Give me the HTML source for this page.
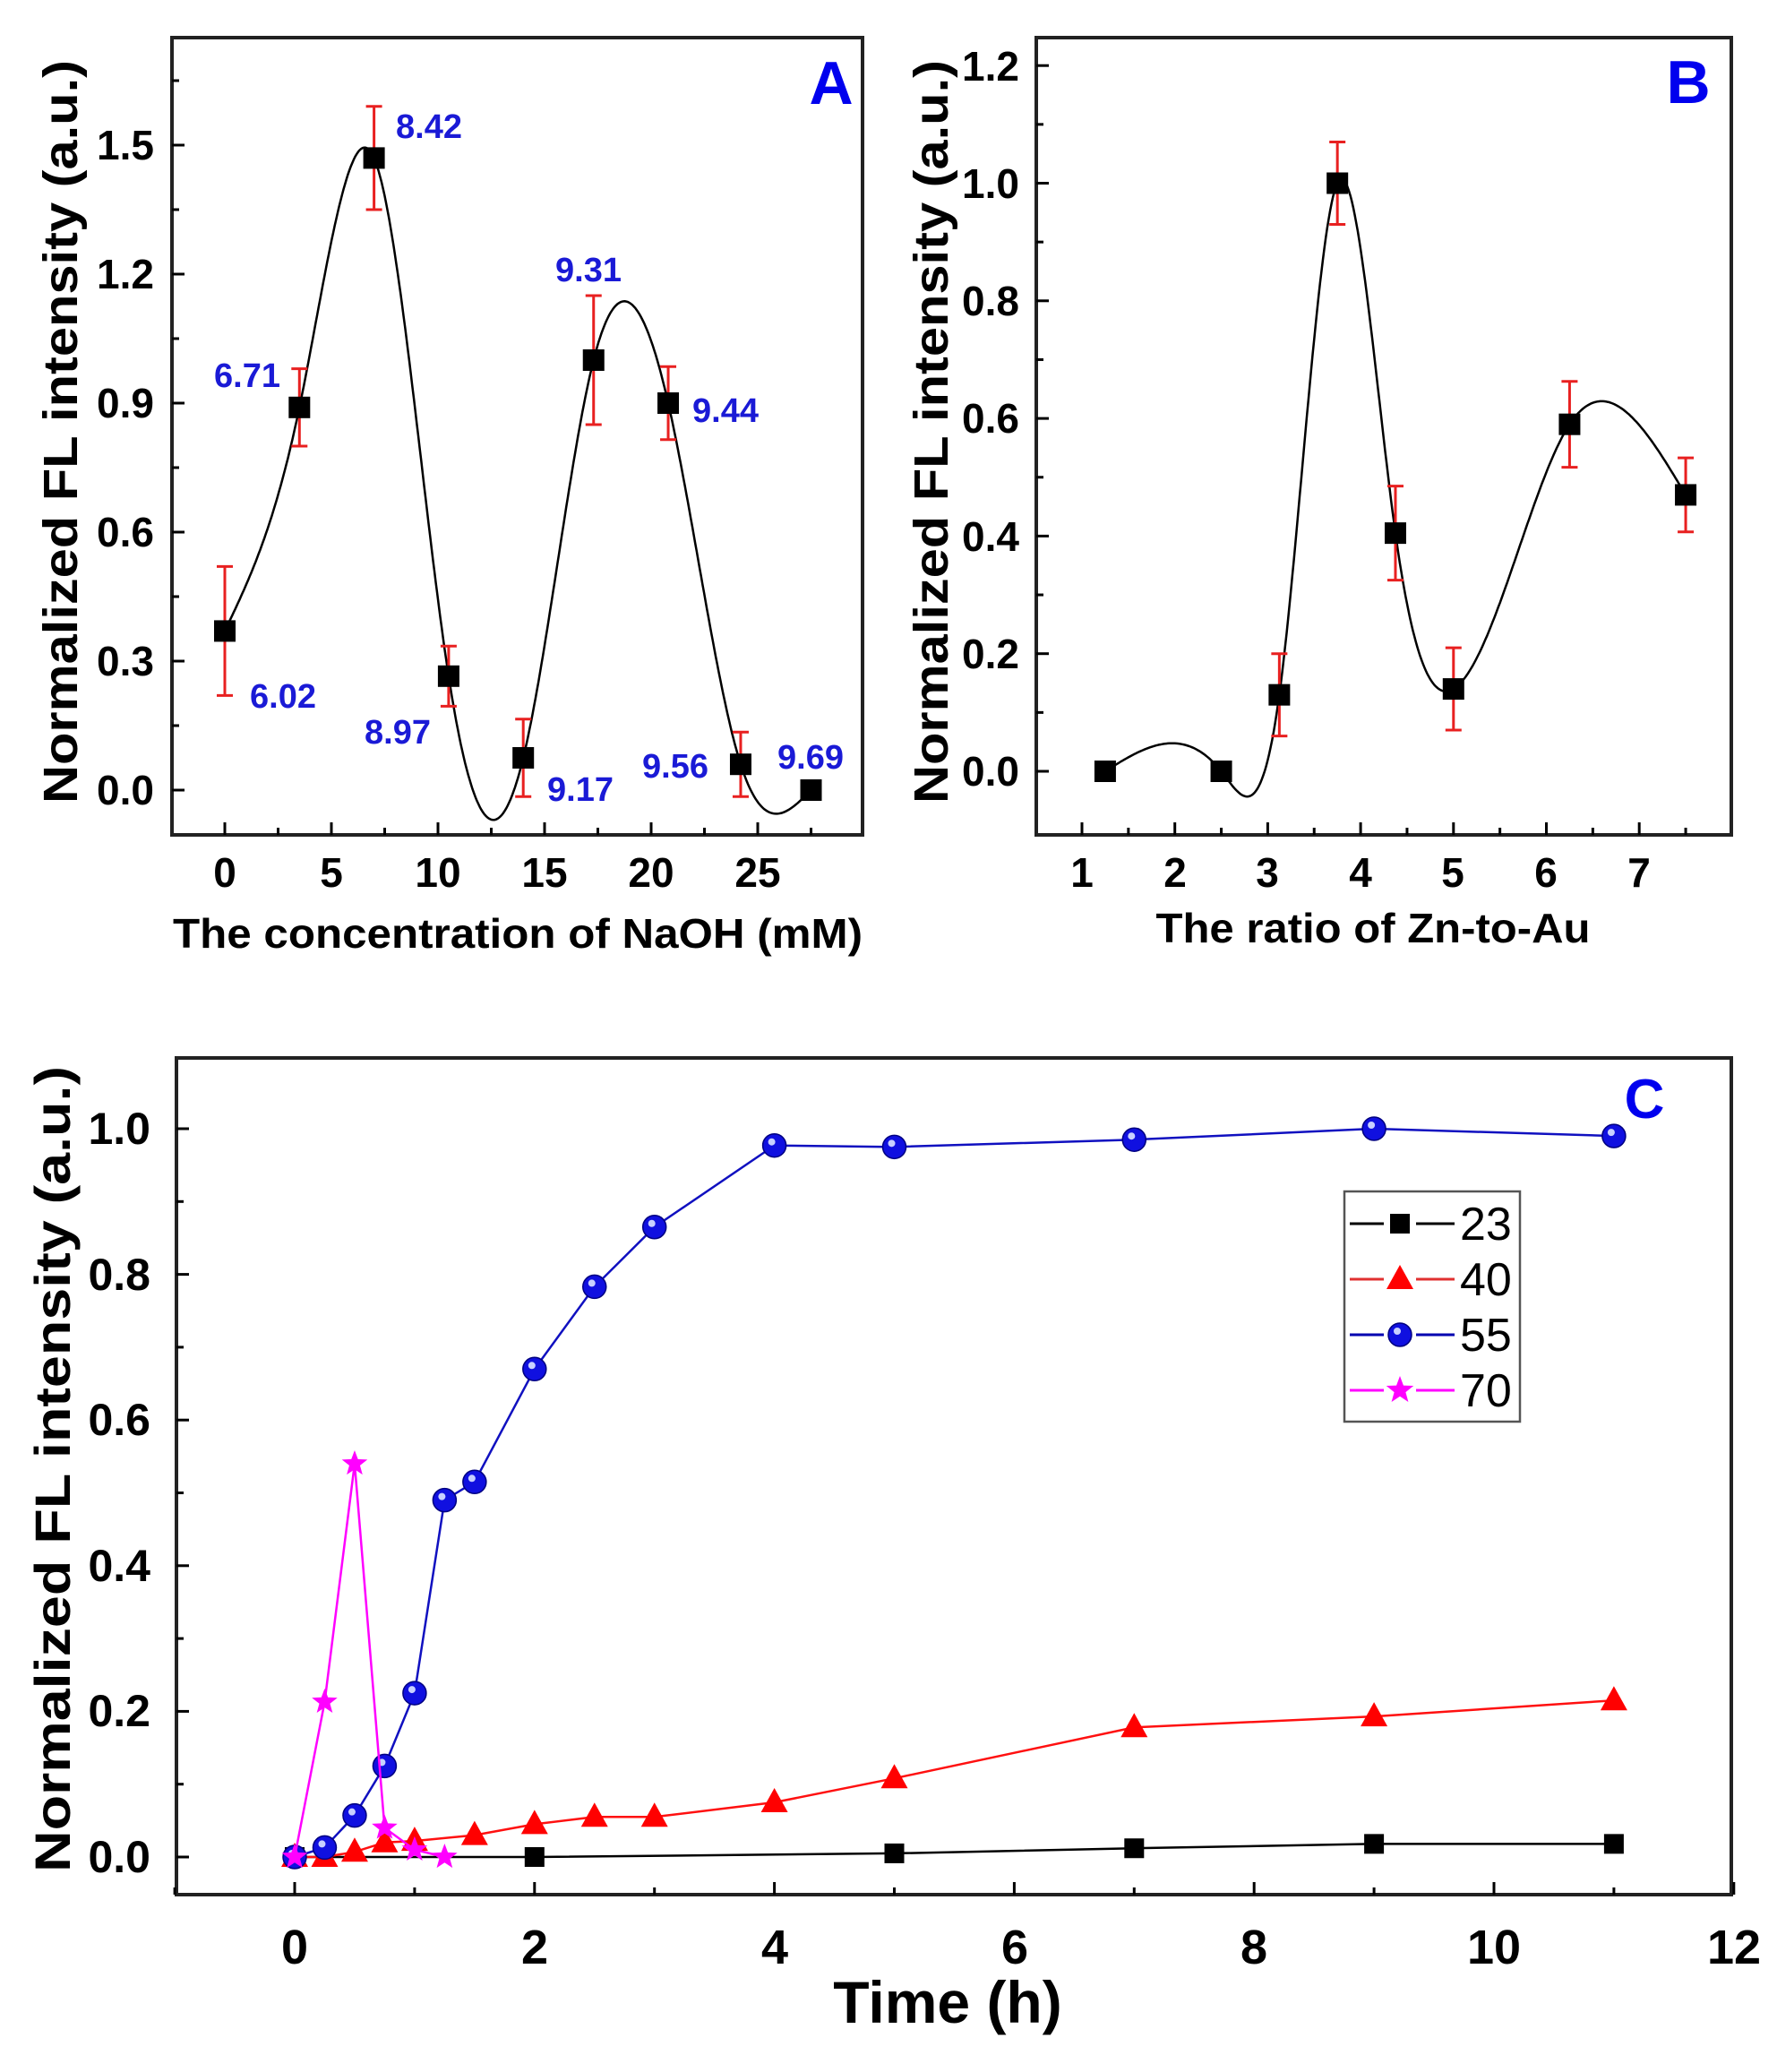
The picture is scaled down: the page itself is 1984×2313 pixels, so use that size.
<!DOCTYPE html>
<html><head><meta charset="utf-8"><style>
html,body{margin:0;padding:0;background:#fff;}
svg{display:block;}
.b{font-family:"Liberation Sans",Arial,sans-serif;font-weight:bold;}
.n{font-family:"Liberation Sans Narrow","Liberation Sans",Arial,sans-serif;}
</style></head><body>
<svg id="s" width="1984" height="2313" viewBox="0 0 1984 2313" xmlns="http://www.w3.org/2000/svg">
<rect width="1984" height="2313" fill="#fff"/>
<rect x="1501" y="1330" width="196" height="257" fill="#fff" stroke="#555" stroke-width="2.5"/>
<g id="g"></g>
<!-- Panel A texts -->
<g class="b" font-size="46" text-anchor="end" fill="#000">
<text x="172" y="898">0.0</text><text x="172" y="754">0.3</text><text x="172" y="610">0.6</text><text x="172" y="466">0.9</text><text x="172" y="322">1.2</text><text x="172" y="178">1.5</text>
</g>
<g class="b" font-size="46" text-anchor="middle" fill="#000">
<text x="251" y="990">0</text><text x="370" y="990">5</text><text x="489" y="990">10</text><text x="608" y="990">15</text><text x="727" y="990">20</text><text x="846" y="990">25</text>
</g>
<text class="b" x="578" y="1058" font-size="46" text-anchor="middle" textLength="770" lengthAdjust="spacingAndGlyphs">The concentration of NaOH (mM)</text>
<text class="b" transform="translate(86,482) rotate(-90)" font-size="54" text-anchor="middle" textLength="830" lengthAdjust="spacingAndGlyphs">Normalized FL intensity (a.u.)</text>
<text class="b" x="928" y="116" font-size="68" fill="#0000ee" text-anchor="middle">A</text>
<g class="b" font-size="38" fill="#1a1ad6" text-anchor="middle">
<text x="316" y="790">6.02</text><text x="276" y="432">6.71</text><text x="479" y="154">8.42</text>
<text x="444" y="830">8.97</text><text x="648" y="894">9.17</text><text x="657" y="314">9.31</text>
<text x="810" y="471">9.44</text><text x="754" y="868">9.56</text><text x="905" y="858">9.69</text>
</g>
<!-- Panel B texts -->
<g class="b" font-size="46" text-anchor="end" fill="#000">
<text x="1138" y="877">0.0</text><text x="1138" y="746">0.2</text><text x="1138" y="615">0.4</text><text x="1138" y="483">0.6</text><text x="1138" y="352">0.8</text><text x="1138" y="221">1.0</text><text x="1138" y="90">1.2</text>
</g>
<g class="b" font-size="46" text-anchor="middle" fill="#000">
<text x="1208" y="990">1</text><text x="1312" y="990">2</text><text x="1415" y="990">3</text><text x="1519" y="990">4</text><text x="1622" y="990">5</text><text x="1726" y="990">6</text><text x="1830" y="990">7</text>
</g>
<text class="b" x="1533" y="1052" font-size="46" text-anchor="middle" textLength="485" lengthAdjust="spacingAndGlyphs">The ratio of Zn-to-Au</text>
<text class="b" transform="translate(1058,482) rotate(-90)" font-size="54" text-anchor="middle" textLength="830" lengthAdjust="spacingAndGlyphs">Normalized FL intensity (a.u.)</text>
<text class="b" x="1885" y="115" font-size="68" fill="#0000ee" text-anchor="middle">B</text>
<!-- Panel C texts -->
<g class="b n" font-size="50" text-anchor="end" fill="#000">
<text x="168" y="2090">0.0</text><text x="168" y="1927">0.2</text><text x="168" y="1765">0.4</text><text x="168" y="1602">0.6</text><text x="168" y="1440">0.8</text><text x="168" y="1277">1.0</text>
</g>
<g class="b n" font-size="54" text-anchor="middle" fill="#000">
<text x="329" y="2192">0</text><text x="597" y="2192">2</text><text x="865" y="2192">4</text><text x="1133" y="2192">6</text><text x="1400" y="2192">8</text><text x="1668" y="2192">10</text><text x="1936" y="2192">12</text>
</g>
<text class="b n" x="1058" y="2258" font-size="66" text-anchor="middle">Time (h)</text>
<text class="b" transform="translate(78,1640) rotate(-90)" font-size="56" text-anchor="middle" textLength="900" lengthAdjust="spacingAndGlyphs">Normalized FL intensity (a.u.)</text>
<text class="b" x="1836" y="1248" font-size="62" fill="#0000ee" text-anchor="middle">C</text>
<g class="n" font-size="52" fill="#000">
<text x="1630" y="1384">23</text><text x="1630" y="1446">40</text><text x="1630" y="1508">55</text><text x="1630" y="1570">70</text>
</g>
</svg>
<script>
(function(){
var g=document.getElementById('g'),NS='http://www.w3.org/2000/svg';
function el(t,a){var e=document.createElementNS(NS,t);for(var k in a)e.setAttribute(k,a[k]);g.appendChild(e);return e;}
function line(x1,y1,x2,y2,c,w){el('line',{x1:x1,y1:y1,x2:x2,y2:y2,stroke:c||'#000','stroke-width':w||3});}
function frame(l,t,r,b){el('rect',{x:l,y:t,width:r-l,height:b-t,fill:'none',stroke:'#222','stroke-width':4});}
function spline(xs,ys){var n=xs.length,h=[],al=[],l=[1],mu=[0],z=[0],c=new Array(n).fill(0),b=[],d=[];
for(var i=0;i<n-1;i++)h[i]=xs[i+1]-xs[i];
for(var i=1;i<n-1;i++)al[i]=3/h[i]*(ys[i+1]-ys[i])-3/h[i-1]*(ys[i]-ys[i-1]);
for(var i=1;i<n-1;i++){l[i]=2*(xs[i+1]-xs[i-1])-h[i-1]*mu[i-1];mu[i]=h[i]/l[i];z[i]=(al[i]-h[i-1]*z[i-1])/l[i];}
l[n-1]=1;z[n-1]=0;c[n-1]=0;
for(var j=n-2;j>=0;j--){c[j]=z[j]-mu[j]*c[j+1];b[j]=(ys[j+1]-ys[j])/h[j]-h[j]*(c[j+1]+2*c[j])/3;d[j]=(c[j+1]-c[j])/(3*h[j]);}
return function(x){var i=0;while(i<n-2&&x>xs[i+1])i++;var t=x-xs[i];return ys[i]+b[i]*t+c[i]*t*t+d[i]*t*t*t;};}
function curve(pts,X,Y){var f=spline(pts.map(function(p){return p[0]}),pts.map(function(p){return p[1]}));
var x0=pts[0][0],x1=pts[pts.length-1][0],s=[];for(var k=0;k<=400;k++){var x=x0+(x1-x0)*k/400;s.push(X(x).toFixed(1)+','+Y(f(x)).toFixed(1));}
el('polyline',{points:s.join(' '),fill:'none',stroke:'#000','stroke-width':2.5});}
function sq(x,y,s){el('rect',{x:x-s/2,y:y-s/2,width:s,height:s,fill:'#000'});}
function err(x,y1,y2){line(x,y1,x,y2,'#e82020',3);line(x-9,y1,x+9,y1,'#e82020',3);line(x-9,y2,x+9,y2,'#e82020',3);}
// Panel A
var AX=function(v){return 251+v*23.8},AY=function(v){return 882-v*480};
frame(192,42,963,932);
[0,5,10,15,20,25].forEach(function(v){line(AX(v),932,AX(v),918);});
[2.5,7.5,12.5,17.5,22.5,27.5].forEach(function(v){line(AX(v),932,AX(v),924);});
[0,0.3,0.6,0.9,1.2,1.5].forEach(function(v){line(192,AY(v),206,AY(v));});
[0.15,0.45,0.75,1.05,1.35,1.65].forEach(function(v){line(192,AY(v),200,AY(v));});
var ad=[[0,0.37,0.15],[3.5,0.89,0.09],[7,1.47,0.12],[10.5,0.265,0.07],[14,0.075,0.09],[17.3,1.0,0.15],[20.8,0.9,0.085],[24.2,0.06,0.075],[27.5,0,0]];
curve(ad,AX,AY);
ad.forEach(function(p){if(p[2])err(AX(p[0]),AY(p[1]+p[2]),AY(p[1]-p[2]));sq(AX(p[0]),AY(p[1]),24);});
// Panel B
var BX=function(v){return 1208+(v-1)*103.7},BY=function(v){return 861-v*656.5};
frame(1157,42,1933,932);
[1,2,3,4,5,6,7].forEach(function(v){line(BX(v),932,BX(v),918);});
[1.5,2.5,3.5,4.5,5.5,6.5,7.5].forEach(function(v){line(BX(v),932,BX(v),924);});
[0,0.2,0.4,0.6,0.8,1.0,1.2].forEach(function(v){line(1157,BY(v),1171,BY(v));});
[0.1,0.3,0.5,0.7,0.9,1.1].forEach(function(v){line(1157,BY(v),1165,BY(v));});
var bd=[[1.25,0,0],[2.5,0,0],[3.125,0.13,0.07],[3.75,1.0,0.07],[4.375,0.405,0.08],[5,0.14,0.07],[6.25,0.59,0.073],[7.5,0.47,0.063]];
curve(bd,BX,BY);
bd.forEach(function(p){if(p[2])err(BX(p[0]),BY(p[1]+p[2]),BY(p[1]-p[2]));sq(BX(p[0]),BY(p[1]),24);});
// Panel C
var CX=function(v){return 329+v*133.9},CY=function(v){return 2073-v*813};
frame(197,1181,1933,2115);
for(var v=0;v<=12;v+=2)line(CX(v),2115,CX(v),2101);
for(var v=-1;v<=11;v+=2)line(CX(v),2115,CX(v),2107);
[0,0.2,0.4,0.6,0.8,1.0].forEach(function(v){line(197,CY(v),211,CY(v));});
[0.1,0.3,0.5,0.7,0.9].forEach(function(v){line(197,CY(v),205,CY(v));});
function poly(d,c){el('polyline',{points:d.map(function(p){return CX(p[0])+','+CY(p[1])}).join(' '),fill:'none',stroke:c,'stroke-width':2.5});}
function tri(x,y,c){el('polygon',{points:(x)+','+(y-16)+' '+(x-15)+','+(y+11)+' '+(x+15)+','+(y+11),fill:c});}
function ball(x,y){el('circle',{cx:x,cy:y,r:13,fill:'#1010e0',stroke:'#000080','stroke-width':1.5});el('circle',{cx:x-3,cy:y-4,r:4,fill:'#c8d0ff'});}
function star(x,y,r,c){var p=[];for(var i=0;i<10;i++){var a=-Math.PI/2+i*Math.PI/5,rr=i%2?r*0.42:r;p.push((x+rr*Math.cos(a))+','+(y+rr*Math.sin(a)));}el('polygon',{points:p.join(' '),fill:c});}
var d23=[[0,0],[2,0],[5,0.005],[7,0.012],[9,0.018],[11,0.018]];
var d40=[[0,0],[0.25,0],[0.5,0.007],[0.75,0.02],[1,0.022],[1.5,0.03],[2,0.045],[2.5,0.055],[3,0.055],[4,0.075],[5,0.108],[7,0.178],[9,0.193],[11,0.215]];
var d55=[[0,0],[0.25,0.013],[0.5,0.057],[0.75,0.125],[1,0.225],[1.25,0.49],[1.5,0.515],[2,0.67],[2.5,0.783],[3,0.865],[4,0.977],[5,0.975],[7,0.985],[9,1.0],[11,0.99]];
var d70=[[0,0],[0.25,0.213],[0.5,0.54],[0.75,0.04],[1,0.01],[1.25,0]];
poly(d23,'#000');d23.forEach(function(p){sq(CX(p[0]),CY(p[1]),22);});
poly(d40,'#ff1010');d40.forEach(function(p){tri(CX(p[0]),CY(p[1]),'#ff0000');});
poly(d55,'#1010c0');d55.forEach(function(p){ball(CX(p[0]),CY(p[1]));});
poly(d70,'#ff00ff');d70.forEach(function(p){star(CX(p[0]),CY(p[1]),15,'#ff00ff');});
// legend
var ly=[1366,1428,1490,1552],lc=['#000','#e03030','#0000b0','#ff00ff'];
ly.forEach(function(y,i){line(1507,y,1545,y,lc[i],3);line(1581,y,1624,y,lc[i],3);});
sq(1563,1366,22);tri(1563,1428,'#ff0000');ball(1563,1490);star(1563,1552,16,'#ff00ff');
})();
</script>
</body></html>
